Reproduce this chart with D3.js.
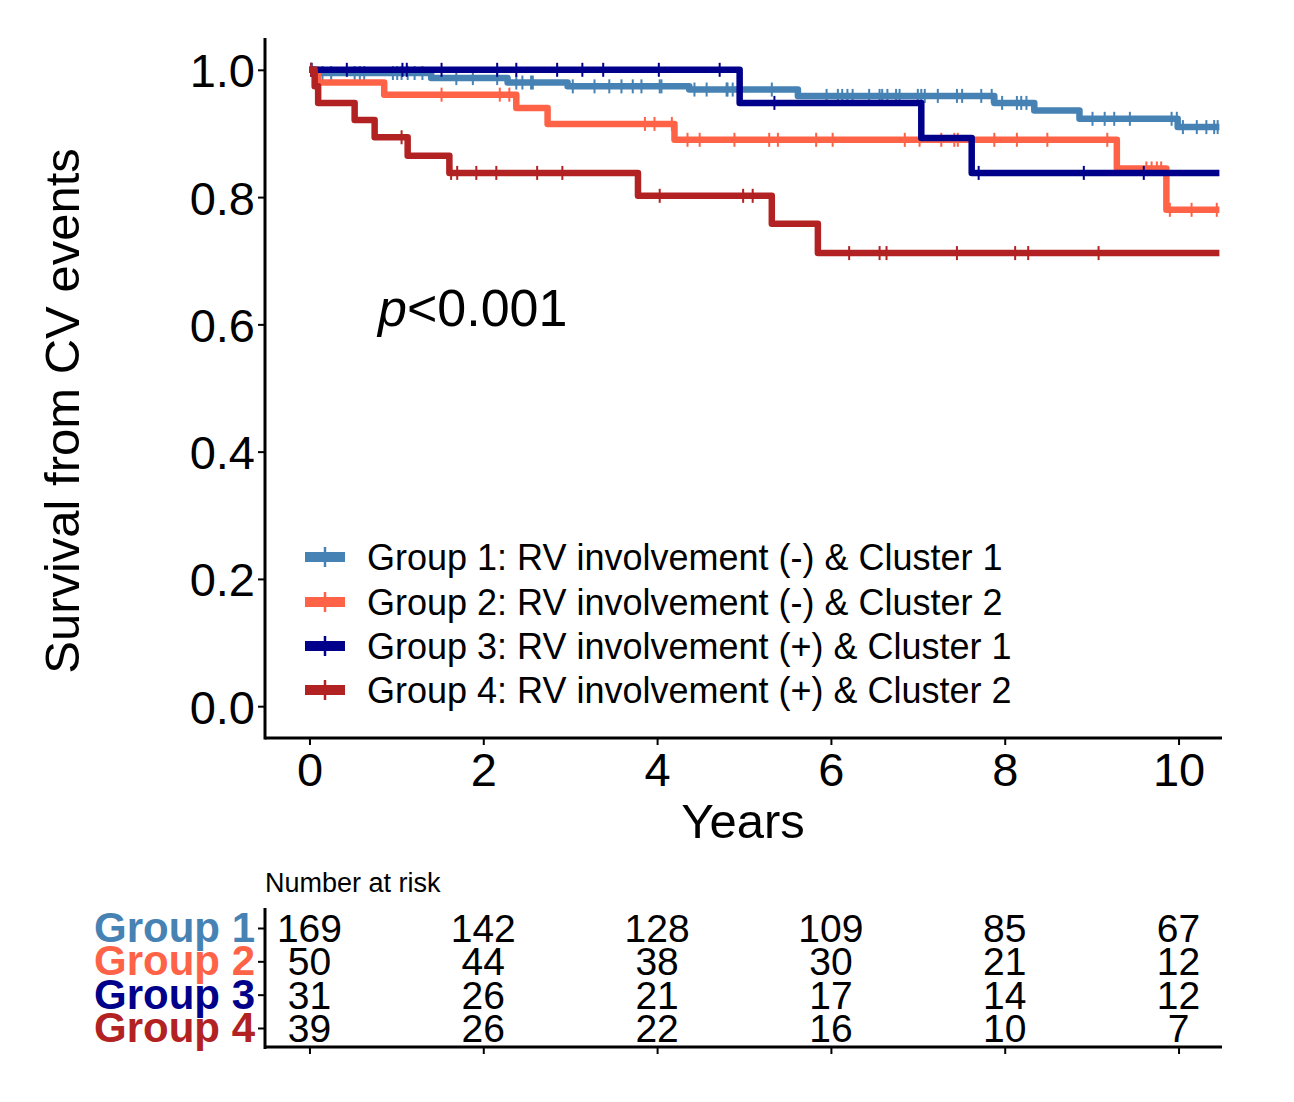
<!DOCTYPE html>
<html><head><meta charset="utf-8">
<script src="https://cdn.jsdelivr.net/npm/d3@7"></script>
<style>body{margin:0;background:#fff;} svg{font-family:"Liberation Sans",Arial,sans-serif;}</style>
</head><body>
<svg id="c" width="1294" height="1102"></svg>
<script>
// ---- data ----
const groupNames = ["Group 1", "Group 2", "Group 3", "Group 4"];
const legendLabels = [
  "Group 1: RV involvement (-) & Cluster 1",
  "Group 2: RV involvement (-) & Cluster 2",
  "Group 3: RV involvement (+) & Cluster 1",
  "Group 4: RV involvement (+) & Cluster 2"
];
const colors = ["#4682B4", "#FF6347", "#00008B", "#B22222"];
const endTime = 10.47;

const g1Times = [0, 0.05, 1.40, 2.28, 2.97, 4.37, 5.62, 7.88, 8.34, 8.86, 9.99];
const g1Surv  = [1, 0.995, 0.987, 0.980, 0.974, 0.969, 0.959, 0.948, 0.936, 0.923, 0.910];
const g2Times = [0, 0.10, 0.86, 2.38, 2.74, 4.20, 9.29, 9.86];
const g2Surv  = [1, 0.980, 0.961, 0.940, 0.915, 0.890, 0.845, 0.780];
const g3Times = [0, 4.95, 7.04, 7.62];
const g3Surv  = [1, 0.948, 0.893, 0.838];
const g4Times = [0, 0.06, 0.10, 0.52, 0.75, 1.13, 1.61, 3.78, 5.32, 5.85];
const g4Surv  = [1, 0.974, 0.948, 0.921, 0.894, 0.865, 0.838, 0.802, 0.758, 0.712];

const g1Censor = [0.03,0.15,0.25,0.52,0.58,0.63,0.96,1.01,1.06,1.13,1.21,1.30,1.69,1.88,2.16,2.38,2.45,2.55,2.57,3.03,3.28,3.45,3.59,3.72,3.82,4.03,4.05,4.43,4.57,4.80,4.81,4.87,5.32,5.95,6.08,6.13,6.19,6.25,6.44,6.56,6.59,6.65,6.75,6.79,7.00,7.04,7.08,7.23,7.45,7.51,7.73,7.85,7.97,8.14,8.19,8.25,9.01,9.15,9.26,9.44,9.92,9.98,10.05,10.21,10.32,10.41,10.45];
const g2Censor = [0.02,1.52,2.19,2.30,3.86,3.97,4.17,4.35,4.49,4.89,5.29,5.39,5.83,6.02,6.85,7.02,7.27,7.42,7.46,7.88,8.14,8.49,9.18,9.63,9.69,9.75,9.80,9.90,10.15,10.44];
const g3Censor = [0.02,0.43,1.07,1.12,1.52,2.16,2.38,2.85,3.14,3.38,4.02,4.72,5.35,7.70,8.91,9.60];
const g4Censor = [0.02,1.06,1.63,1.70,1.92,2.15,2.62,2.91,4.03,4.99,5.10,6.21,6.56,6.64,7.45,8.12,8.27,9.08];

const xTicks = [0, 2, 4, 6, 8, 10];
const yTicks = [0, 0.2, 0.4, 0.6, 0.8, 1.0];
const riskG1 = [169, 142, 128, 109, 85, 67];
const riskG2 = [50, 44, 38, 30, 21, 12];
const riskG3 = [31, 26, 21, 17, 14, 12];
const riskG4 = [39, 26, 22, 16, 10, 7];
const pText = "<0.001";

// ---- build ----
const groups = [
  {times: g1Times, surv: g1Surv, cens: g1Censor},
  {times: g2Times, surv: g2Surv, cens: g2Censor},
  {times: g3Times, surv: g3Surv, cens: g3Censor},
  {times: g4Times, surv: g4Surv, cens: g4Censor}
];
const risk = [riskG1, riskG2, riskG3, riskG4];

const svg = d3.select("#c");
const x = d3.scaleLinear().domain([-0.5, 10.5]).range([266, 1222]);
const y = d3.scaleLinear().domain([-0.05, 1.05]).range([738, 38]);

function stepAt(g, t) {
  let v = g.surv[0];
  for (let i = 0; i < g.times.length; i++) if (g.times[i] <= t) v = g.surv[i];
  return v;
}

const line = d3.line().x(d => x(d[0])).y(d => y(d[1])).curve(d3.curveStepAfter);

groups.forEach((g, i) => {
  const pts = g.times.map((t, k) => [t, g.surv[k]]);
  pts.push([endTime, g.surv[g.surv.length - 1]]);
  svg.append("path").attr("d", line(pts)).attr("fill", "none")
    .attr("stroke", colors[i]).attr("stroke-width", 6.5).attr("stroke-linejoin", "round");
  svg.append("g").selectAll("line").data(g.cens).join("line")
    .attr("x1", d => x(d)).attr("x2", d => x(d))
    .attr("y1", d => y(stepAt(g, d)) - 7).attr("y2", d => y(stepAt(g, d)) + 7)
    .attr("stroke", colors[i]).attr("stroke-width", 2);
});

// axes
const xAxis = svg.append("g").attr("transform", "translate(0,738)")
  .call(d3.axisBottom(x).tickValues(xTicks).tickSize(7).tickFormat(d3.format("d")));
const yAxis = svg.append("g").attr("transform", "translate(265,0)")
  .call(d3.axisLeft(y).tickValues(yTicks).tickSize(7).tickFormat(d3.format(".1f")));
[xAxis, yAxis].forEach(a => {
  a.select(".domain").attr("stroke", "#000").attr("stroke-width", 3);
  a.selectAll(".tick line").attr("stroke", "#000").attr("stroke-width", 2);
  a.selectAll("text").attr("fill", "#000").style("font-size", "47px")
   .style("font-family", '"Liberation Sans",Arial,sans-serif');
});
xAxis.select(".domain").attr("d", "M265,0H1222");
yAxis.select(".domain").attr("d", "M0,38V739.5");
xAxis.selectAll("text").attr("dy", null).attr("y", 48);
yAxis.selectAll("text").attr("x", -10).attr("dy", "0.36em");

svg.append("text").attr("x", 743).attr("y", 838).attr("text-anchor", "middle")
  .style("font-size", "49px").text("Years");
svg.append("text").attr("transform", "translate(79,411) rotate(-90)").attr("text-anchor", "middle")
  .style("font-size", "49px").text("Survival from CV events");

const pt = svg.append("text").attr("x", 378).attr("y", 326).style("font-size", "52px");
pt.append("tspan").style("font-style", "italic").text("p");
pt.append("tspan").text(pText);

// legend
const legY = [557, 602, 646, 690];
legendLabels.forEach((lab, i) => {
  svg.append("line").attr("x1", 305).attr("x2", 345).attr("y1", legY[i]).attr("y2", legY[i])
    .attr("stroke", colors[i]).attr("stroke-width", 10);
  svg.append("line").attr("x1", 325).attr("x2", 325).attr("y1", legY[i] - 10).attr("y2", legY[i] + 10)
    .attr("stroke", colors[i]).attr("stroke-width", 2.5);
  svg.append("text").attr("x", 367).attr("y", legY[i] + 13).style("font-size", "36px").text(lab);
});

// risk table
svg.append("text").attr("x", 265).attr("y", 892).style("font-size", "27px").text("Number at risk");
const rowY = d3.scalePoint().domain(groupNames).range([928, 1028]);
const tAxisY = svg.append("g").attr("transform", "translate(265,0)")
  .call(d3.axisLeft(rowY).tickSize(7).tickFormat(""));
tAxisY.select(".domain").attr("d", "M0,908V1049").attr("stroke", "#000").attr("stroke-width", 3);
tAxisY.selectAll(".tick line").attr("stroke", "#000").attr("stroke-width", 2);
const tAxisX = svg.append("g").attr("transform", "translate(0,1047)")
  .call(d3.axisBottom(x).tickValues(xTicks).tickSize(7).tickFormat(""));
tAxisX.select(".domain").attr("d", "M265,0H1222").attr("stroke", "#000").attr("stroke-width", 3);
tAxisX.selectAll(".tick line").attr("stroke", "#000").attr("stroke-width", 2);

groupNames.forEach((gn, i) => {
  svg.append("text").attr("x", 255).attr("y", rowY(gn) + 14).attr("text-anchor", "end")
    .style("font-size", "42px").style("font-weight", "bold").attr("fill", colors[i]).text(gn);
  svg.append("g").selectAll("text").data(risk[i]).join("text")
    .attr("x", (d, k) => x(xTicks[k])).attr("y", rowY(gn) + 14)
    .attr("text-anchor", "middle").style("font-size", "39px").text(d => d);
});
</script>
</body></html>
